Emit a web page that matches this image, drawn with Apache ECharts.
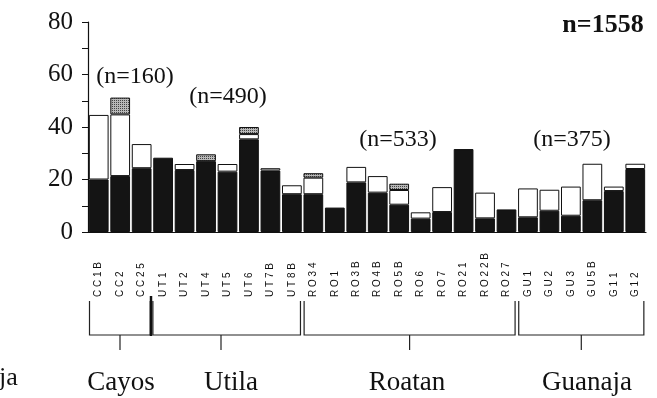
<!DOCTYPE html>
<html><head><meta charset="utf-8">
<script src="https://cdn.jsdelivr.net/npm/echarts@6/dist/echarts.min.js"></script>
<style>html,body{margin:0;padding:0;background:#fff}#c{width:657px;height:398px}</style>
</head><body><div id="c"></div>
<script>
var categories = ['CC1B','CC2','CC25','UT1','UT2','UT4','UT5','UT6','UT7B','UT8B','RO34','RO1','RO3B','RO4B','RO5B','RO6','RO7','RO21','RO22B','RO27','GU1','GU2','GU3','GU5B','G11','G12'];
var blackVals = [20,21.3,24.3,28.3,23.6,27,23,35.3,23.4,14.4,14.4,9.3,18.9,15,10.4,5.1,7.6,31.6,5.2,8.6,5.6,8.1,6.2,12.1,15.6,24];
var whiteVals = [24.6,23.5,9.2,null,2.3,null,2.9,2,0.9,3.4,6.3,null,5.9,6.3,5.6,2.4,9.5,null,9.8,null,11,8,11.1,13.9,1.7,2];
var hatchVals = [null,6.4,null,null,null,2.6,null,2.7,null,null,1.7,null,null,null,2.4,null,null,null,null,null,null,null,null,null,null,null];
var yTicks = [0,20,40,60,80];
var groups = [
  {name:'Cayos', from:0, to:2, count:'(n=160)'},
  {name:'Utila', from:3, to:9, count:'(n=490)'},
  {name:'Roatan', from:10, to:19, count:'(n=533)'},
  {name:'Guanaja', from:20, to:25, count:'(n=375)'}
];
var total = 'n=1558';

var pc = document.createElement('canvas');
pc.width = 4; pc.height = 4;
var px = pc.getContext('2d');
px.fillStyle = '#b8b8b8'; px.fillRect(0,0,4,4);
px.fillStyle = '#444'; px.fillRect(0,0,1,1); px.fillRect(2,2,1,1); px.fillRect(2,0,1,1);px.fillRect(0,2,1,1);

var chart = echarts.init(document.getElementById('c'));
var serif = '"Liberation Serif", "DejaVu Serif", serif';
var border = {borderColor:'#111', borderWidth:1};
var option = {
  animation:false,
  grid:{left:88, right:11, top:22, bottom:166},
  xAxis:{type:'category', data:categories,
    axisLine:{lineStyle:{color:'#111', width:1.2}},
    axisTick:{length:7, lineStyle:{color:'#111'}},
    axisLabel:{rotate:90, align:'left', margin:65, fontSize:10, color:'#111', fontFamily:'"Liberation Sans", Arial, sans-serif',
      formatter:function(v){return v.split('').join(' ');}}
  },
  yAxis:{type:'value', min:0, max:80, interval:10,
    splitLine:{show:false},
    axisLine:{show:true, lineStyle:{color:'#111', width:1.2}},
    axisTick:{show:true, length:6, lineStyle:{color:'#111'}},
    axisLabel:{margin:15, fontSize:25, color:'#111', fontFamily:serif,
      formatter:function(v){return yTicks.indexOf(v)>=0 ? String(v) : '';}}
  },
  series:[
    {type:'bar', stack:'a', data:blackVals, barCategoryGap:'8%', itemStyle:Object.assign({color:'#141414'}, border)},
    {type:'bar', stack:'a', data:whiteVals, itemStyle:Object.assign({color:'#fff'}, border)},
    {type:'bar', stack:'a', data:hatchVals, itemStyle:Object.assign({color:{image:pc, repeat:'repeat'}}, border)}
  ]
};
chart.setOption(option);

var countPos = [[135,77],[228,97],[398,140],[572,140]];
var g = [];
var lineStyle = {stroke:'#222', lineWidth:1.2};
var w = chart.convertToPixel({xAxisIndex:0}, 1) - chart.convertToPixel({xAxisIndex:0}, 0);
groups.forEach(function(gr, i){
  var x0 = chart.convertToPixel({xAxisIndex:0}, gr.from) - w*0.43;
  var x1 = chart.convertToPixel({xAxisIndex:0}, gr.to) + w*0.4;
  if (i === 1) x0 = chart.convertToPixel({xAxisIndex:0}, gr.from) - w*0.5 + 0.5;
  var yTop = 301, yBot = 335;
  g.push({type:'polyline', shape:{points:[[x0,yTop],[x0,yBot],[x1,yBot],[x1,yTop]]}, style:Object.assign({fill:null}, lineStyle)});
  var cx = (x0+x1)/2;
  if (i===1) cx = 221;
  if (i===0) cx = 120;
  g.push({type:'line', shape:{x1:cx, y1:yBot, x2:cx, y2:350}, style:lineStyle});
  var lx = [121,231,407,587][i];
  g.push({type:'text', x:lx, y:383, style:{text:gr.name, font:'27px '+serif, fill:'#111', align:'center', verticalAlign:'middle'}});
  g.push({type:'text', x:countPos[i][0], y:countPos[i][1], style:{text:gr.count, font:'24px '+serif, fill:'#111', align:'center', verticalAlign:'middle'}});
});
g.push({type:'line', shape:{x1:151, y1:296, x2:151, y2:336}, style:{stroke:'#111', lineWidth:2.5}});
g.push({type:'text', x:603, y:25, style:{text:total, font:'bold 26px '+serif, fill:'#111', align:'center', verticalAlign:'middle'}});
g.push({type:'text', x:-1, y:378, style:{text:'ja', font:'26px '+serif, fill:'#111', align:'left', verticalAlign:'middle'}});
chart.setOption({graphic:g});
</script></body></html>
